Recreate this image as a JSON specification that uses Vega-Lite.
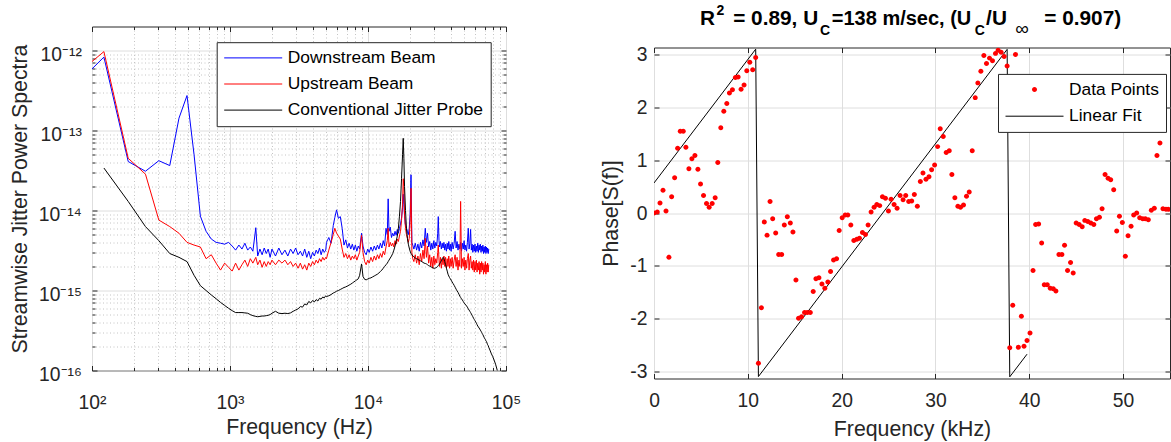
{
"$schema":"https://vega.github.io/schema/vega-lite/v6.json",
"background":"white",
"padding":{"left":8,"top":3.5,"right":0,"bottom":0},
"spacing":77,
"config":{
 "font":"Liberation Sans",
 "view":{"stroke":"#262626","strokeWidth":1},
 "axis":{"domain":false,"ticks":false,"grid":false,"labelFont":"Liberation Sans","labelFontSize":19.3,"labelColor":"#262626","titleFont":"Liberation Sans","titleFontSize":21.3,"titleFontWeight":"normal","titleColor":"#262626","tickColor":"#262626","tickWidth":1,"gridColor":"#dedede","gridWidth":1,"labelFlush":false,"labelOverlap":false,"labelBound":false},
 "legend":{"labelFont":"Liberation Sans","labelFontSize":17.4,"labelColor":"#000000","labelLimit":400}
},
"hconcat":[
{
 "width":414,"height":344,
 "data":{"values":[
{"f":100,"d":5.9e-13,"u":7.3e-13},
{"f":122,"d":8.3e-13,"u":9.7e-13,"c":3.4e-14},
{"f":183,"d":4.1e-14,"u":4.5e-14,"c":1.3e-14},
{"f":244,"d":3.1e-14,"u":2.85e-14,"c":6.3e-15},
{"f":305,"d":4.2e-14,"u":7.6e-15,"c":4.2e-15},
{"f":366,"d":3.65e-14,"u":6.3e-15,"c":2.9e-15},
{"f":427,"d":1.43e-13,"u":5.2e-15,"c":2.6e-15},
{"f":488,"d":2.74e-13,"u":4.0e-15,"c":2.3e-15},
{"f":549,"d":5e-14,"u":3.7e-15,"c":1.55e-15},
{"f":610,"d":8.5e-15,"u":3.5e-15,"c":1.15e-15},
{"f":671,"d":5.5e-15,"u":2.5e-15,"c":1.0e-15},
{"f":732,"d":4.4e-15,"u":2.8e-15,"c":8.8e-16},
{"f":793,"d":4.0e-15,"u":2.2e-15,"c":7.9e-16},
{"f":854,"d":3.9e-15,"u":1.8e-15,"c":7.1e-16},
{"f":915,"d":3.8e-15,"u":2.2e-15,"c":6.5e-16},
{"f":976,"d":4.0e-15,"u":1.95e-15,"c":6.0e-16},
{"f":1037,"d":3.6e-15,"u":1.75e-15,"c":5.6e-16},
{"f":1098,"d":3.2e-15,"u":2.2e-15,"c":5.3e-16},
{"f":1160,"d":3.7e-15,"u":1.8e-15,"c":5.3e-16},
{"f":1221,"d":3.3e-15,"u":2.1e-15,"c":5.3e-16},
{"f":1282,"d":3.9e-15,"u":2.4e-15,"c":5.25e-16},
{"f":1343,"d":3.2e-15,"u":2.0e-15,"c":5.2e-16},
{"f":1404,"d":3.5e-15,"u":2.5e-15,"c":5.0e-16},
{"f":1465,"d":3.1e-15,"u":2.2e-15,"c":4.85e-16},
{"f":1538,"d":6.1e-15,"u":2.6e-15,"c":4.75e-16},
{"f":1587,"d":2.7e-15,"u":2.1e-15,"c":4.7e-16},
{"f":1648,"d":3.3e-15,"u":2.4e-15,"c":4.75e-16},
{"f":1709,"d":2.8e-15,"u":1.95e-15,"c":4.8e-16},
{"f":1770,"d":3.4e-15,"u":2.3e-15,"c":4.8e-16},
{"f":1831,"d":2.9e-15,"u":2.0e-15,"c":4.85e-16},
{"f":1892,"d":3.3e-15,"u":2.3e-15,"c":4.9e-16},
{"f":1953,"d":2.6e-15,"u":2.1e-15,"c":5.0e-16},
{"f":2014,"d":3.3e-15,"u":2.4e-15,"c":5.2e-16},
{"f":2136,"d":2.7e-15,"u":2.1e-15,"c":5.5e-16},
{"f":2258,"d":3.4e-15,"u":2.4e-15,"c":5.2e-16},
{"f":2380,"d":2.8e-15,"u":2.2e-15,"c":5.15e-16},
{"f":2502,"d":3.2e-15,"u":2.4e-15,"c":5.2e-16},
{"f":2624,"d":2.7e-15,"u":2.1e-15,"c":5.15e-16},
{"f":2746,"d":3.3e-15,"u":2.3e-15,"c":5.25e-16},
{"f":2868,"d":2.9e-15,"u":2.0e-15,"c":5.5e-16},
{"f":2990,"d":3.4e-15,"u":2.2e-15,"c":5.7e-16},
{"f":3112,"d":2.8e-15,"u":1.9e-15,"c":5.9e-16},
{"f":3234,"d":3.1e-15,"u":2.2e-15,"c":6.3e-16},
{"f":3356,"d":2.7e-15,"u":1.85e-15,"c":6.2e-16},
{"f":3478,"d":3.3e-15,"u":2.1e-15,"c":6.8e-16},
{"f":3600,"d":2.6e-15,"u":1.8e-15,"c":6.6e-16},
{"f":3722,"d":3.1e-15,"u":2.2e-15,"c":7.3e-16},
{"f":3844,"d":2.5e-15,"u":2.0e-15,"c":7.0e-16},
{"f":3966,"d":3.0e-15,"u":2.3e-15,"c":7.5e-16},
{"f":4088,"d":2.7e-15,"u":2.1e-15,"c":7.2e-16},
{"f":4210,"d":3.2e-15,"u":2.4e-15,"c":7.7e-16},
{"f":4332,"d":2.9e-15,"u":2.2e-15,"c":7.4e-16},
{"f":4454,"d":3.4e-15,"u":2.5e-15,"c":8.0e-16},
{"f":4576,"d":2.8e-15,"u":2.3e-15,"c":7.8e-16},
{"f":4698,"d":3.3e-15,"u":2.6e-15,"c":8.3e-16},
{"f":4820,"d":3.0e-15,"u":2.4e-15,"c":8.1e-16},
{"f":4942,"d":3.2e-15,"u":2.6e-15,"c":8.6e-16},
{"f":5000,"d":4.0e-15,"u":2.5e-15,"c":8.4e-16},
{"f":5200,"d":4.6e-15,"u":3.2e-15,"c":8.6e-16},
{"f":5400,"d":3.9e-15,"u":4.0e-15,"c":8.9e-16},
{"f":5600,"d":6.5e-15,"u":5.0e-15,"c":9.3e-16},
{"f":5750,"d":8.2e-15,"u":6.0e-15,"c":9.5e-16},
{"f":5920,"d":1.02e-14,"u":5.2e-15,"c":9.8e-16},
{"f":6100,"d":8.0e-15,"u":4.8e-15,"c":1.0e-15},
{"f":6300,"d":8.4e-15,"u":4.4e-15,"c":1.03e-15},
{"f":6500,"d":6.0e-15,"u":3.3e-15,"c":1.06e-15},
{"f":6700,"d":3.7e-15,"u":2.6e-15,"c":1.09e-15},
{"f":6900,"d":4.3e-15,"u":2.9e-15,"c":1.11e-15},
{"f":7100,"d":3.4e-15,"u":2.5e-15,"c":1.14e-15},
{"f":7300,"d":3.9e-15,"u":2.8e-15,"c":1.17e-15},
{"f":7500,"d":3.3e-15,"u":2.4e-15,"c":1.2e-15},
{"f":7700,"d":3.8e-15,"u":2.7e-15,"c":1.24e-15},
{"f":7900,"d":3.2e-15,"u":2.5e-15,"c":1.28e-15},
{"f":8100,"d":3.7e-15,"u":2.8e-15,"c":1.32e-15},
{"f":8300,"d":3.1e-15,"u":2.4e-15,"c":1.36e-15},
{"f":8500,"d":3.6e-15,"u":2.7e-15,"c":1.4e-15},
{"f":8700,"d":3.3e-15,"u":3.0e-15,"c":1.55e-15},
{"f":8980,"d":5.2e-15,"u":4.9e-15,"c":2.15e-15},
{"f":9200,"d":3.6e-15,"u":3.0e-15,"c":1.5e-15},
{"f":9450,"d":3.0e-15,"u":2.3e-15,"c":1.38e-15},
{"f":9700,"d":2.8e-15,"u":2.1e-15,"c":1.36e-15},
{"f":9950,"d":3.3e-15,"u":2.4e-15,"c":1.39e-15},
{"f":10200,"d":3.0e-15,"u":2.2e-15,"c":1.42e-15},
{"f":10500,"d":3.5e-15,"u":2.6e-15,"c":1.44e-15},
{"f":10800,"d":3.1e-15,"u":2.3e-15,"c":1.48e-15},
{"f":11100,"d":3.6e-15,"u":2.7e-15,"c":1.52e-15},
{"f":11400,"d":3.2e-15,"u":2.4e-15,"c":1.56e-15},
{"f":11700,"d":3.7e-15,"u":2.8e-15,"c":1.6e-15},
{"f":12000,"d":3.3e-15,"u":2.5e-15,"c":1.66e-15},
{"f":12300,"d":3.9e-15,"u":2.9e-15,"c":1.73e-15},
{"f":12600,"d":3.4e-15,"u":2.6e-15,"c":1.8e-15},
{"f":12900,"d":4.2e-15,"u":3.1e-15,"c":1.9e-15},
{"f":13200,"d":3.6e-15,"u":2.8e-15,"c":2.0e-15},
{"f":13500,"d":6.0e-15,"u":3.5e-15,"c":2.1e-15},
{"f":13800,"d":5.0e-15,"u":4.2e-15,"c":2.2e-15},
{"f":14000,"d":1.4e-14,"u":6.0e-15,"c":2.3e-15},
{"f":14200,"d":5.5e-15,"u":3.5e-15,"c":2.4e-15},
{"f":14500,"d":6.2e-15,"u":4.0e-15,"c":2.55e-15},
{"f":14800,"d":4.6e-15,"u":3.6e-15,"c":2.7e-15},
{"f":15100,"d":5.2e-15,"u":3.9e-15,"c":2.9e-15},
{"f":15400,"d":4.8e-15,"u":3.5e-15,"c":3.2e-15},
{"f":15700,"d":5.5e-15,"u":4.2e-15,"c":3.6e-15},
{"f":16000,"d":4.9e-15,"u":3.8e-15,"c":4.1e-15},
{"f":16300,"d":5.8e-15,"u":4.4e-15,"c":4.8e-15},
{"f":16600,"d":5.2e-15,"u":4.1e-15,"c":6.0e-15},
{"f":16900,"d":6.0e-15,"u":4.8e-15,"c":8.5e-15},
{"f":17200,"d":6.8e-15,"u":5.5e-15,"c":1.3e-14},
{"f":17500,"d":8.0e-15,"u":7.5e-15,"c":2.5e-14},
{"f":17800,"d":1.1e-14,"u":1.2e-14,"c":5.0e-14},
{"f":18000,"d":1.6e-14,"u":2.5e-14,"c":8.0e-14},
{"f":18200,"d":1.2e-14,"u":2.0e-14,"c":4.5e-14},
{"f":18400,"d":8.5e-15,"u":9.0e-15,"c":2.0e-14},
{"f":18700,"d":6.5e-15,"u":6.0e-15,"c":1.0e-14},
{"f":19000,"d":6.0e-15,"u":5.0e-15,"c":6.0e-15},
{"f":19300,"d":5.5e-15,"u":4.5e-15,"c":4.5e-15},
{"f":19600,"d":5.0e-15,"u":4.0e-15,"c":3.8e-15},
{"f":19900,"d":6.0e-15,"u":4.5e-15,"c":3.4e-15},
{"f":20200,"d":9.0e-15,"u":7.0e-15,"c":3.1e-15},
{"f":20500,"d":2.8e-14,"u":1.9e-14,"c":2.9e-15},
{"f":20800,"d":4.0e-15,"u":3.0e-15,"c":2.8e-15},
{"f":21100,"d":3.7e-15,"u":2.5e-15,"c":2.7e-15},
{"f":21500,"d":3.3e-15,"u":2.3e-15,"c":2.65e-15},
{"f":22000,"d":3.9e-15,"u":2.8e-15,"c":2.55e-15},
{"f":22500,"d":3.2e-15,"u":2.2e-15,"c":2.5e-15},
{"f":23000,"d":3.8e-15,"u":2.7e-15,"c":2.45e-15},
{"f":23500,"d":3.1e-15,"u":2.1e-15,"c":2.4e-15},
{"f":24000,"d":4.0e-15,"u":2.9e-15,"c":2.35e-15},
{"f":24500,"d":3.4e-15,"u":2.3e-15,"c":2.3e-15},
{"f":25000,"d":4.3e-15,"u":3.2e-15,"c":2.25e-15},
{"f":25500,"d":3.6e-15,"u":2.5e-15,"c":2.2e-15},
{"f":26000,"d":6.0e-15,"u":4.5e-15,"c":2.18e-15},
{"f":26500,"d":4.0e-15,"u":2.6e-15,"c":2.15e-15},
{"f":27000,"d":5.2e-15,"u":3.6e-15,"c":2.1e-15},
{"f":27500,"d":3.5e-15,"u":2.2e-15,"c":2.05e-15},
{"f":28000,"d":4.1e-15,"u":2.8e-15,"c":2.02e-15},
{"f":28500,"d":3.2e-15,"u":2.0e-15,"c":1.98e-15},
{"f":29000,"d":3.9e-15,"u":2.6e-15,"c":1.95e-15},
{"f":29500,"d":3.3e-15,"u":1.9e-15,"c":1.92e-15},
{"f":30000,"d":4.2e-15,"u":2.7e-15,"c":1.9e-15},
{"f":30500,"d":3.4e-15,"u":2.1e-15,"c":1.9e-15},
{"f":31000,"d":4.0e-15,"u":2.5e-15,"c":1.92e-15},
{"f":31500,"d":3.6e-15,"u":2.2e-15,"c":1.95e-15},
{"f":32000,"d":5.2e-15,"u":3.0e-15,"c":2.0e-15},
{"f":32300,"d":8.4e-15,"u":3.7e-15,"c":2.05e-15},
{"f":32700,"d":4.2e-15,"u":2.4e-15,"c":2.1e-15},
{"f":33000,"d":3.5e-15,"u":2.0e-15,"c":2.15e-15},
{"f":33500,"d":4.1e-15,"u":2.6e-15,"c":2.25e-15},
{"f":34000,"d":3.3e-15,"u":1.9e-15,"c":2.35e-15},
{"f":34500,"d":3.9e-15,"u":2.5e-15,"c":2.5e-15},
{"f":35000,"d":3.4e-15,"u":2.1e-15,"c":2.6e-15},
{"f":35500,"d":4.0e-15,"u":2.7e-15,"c":2.5e-15},
{"f":36000,"d":3.2e-15,"u":2.0e-15,"c":2.3e-15},
{"f":36500,"d":3.8e-15,"u":2.6e-15,"c":2.1e-15},
{"f":37000,"d":3.1e-15,"u":1.9e-15,"c":1.9e-15},
{"f":37500,"d":3.9e-15,"u":2.5e-15,"c":1.75e-15},
{"f":38000,"d":3.3e-15,"u":2.0e-15,"c":1.6e-15},
{"f":38500,"d":4.1e-15,"u":2.7e-15,"c":1.52e-15},
{"f":39000,"d":3.2e-15,"u":1.9e-15,"c":1.45e-15},
{"f":39500,"d":3.8e-15,"u":2.5e-15,"c":1.4e-15},
{"f":40000,"d":3.1e-15,"u":2.0e-15,"c":1.35e-15},
{"f":40700,"d":4.0e-15,"u":2.6e-15,"c":1.28e-15},
{"f":41400,"d":3.3e-15,"u":1.9e-15,"c":1.22e-15},
{"f":42100,"d":3.9e-15,"u":2.4e-15,"c":1.16e-15},
{"f":42800,"d":5.5e-15,"u":2.8e-15,"c":1.1e-15},
{"f":43500,"d":3.4e-15,"u":2.0e-15,"c":1.04e-15},
{"f":44200,"d":4.1e-15,"u":2.6e-15,"c":9.9e-16},
{"f":44900,"d":3.2e-15,"u":1.8e-15,"c":9.5e-16},
{"f":45600,"d":3.8e-15,"u":2.4e-15,"c":9.0e-16},
{"f":46300,"d":3.3e-15,"u":2.0e-15,"c":8.5e-16},
{"f":46900,"d":4.0e-15,"u":1.3e-14,"c":8.2e-16},
{"f":47600,"d":3.1e-15,"u":1.9e-15,"c":7.9e-16},
{"f":48300,"d":3.9e-15,"u":2.5e-15,"c":7.6e-16},
{"f":49000,"d":3.3e-15,"u":2.0e-15,"c":7.3e-16},
{"f":49700,"d":4.2e-15,"u":2.6e-15,"c":7.0e-16},
{"f":50400,"d":3.2e-15,"u":1.8e-15,"c":6.8e-16},
{"f":51100,"d":3.7e-15,"u":2.4e-15,"c":6.6e-16},
{"f":51800,"d":3.1e-15,"u":1.9e-15,"c":6.4e-16},
{"f":52500,"d":4.0e-15,"u":2.5e-15,"c":6.2e-16},
{"f":53300,"d":6.0e-15,"u":2.9e-15,"c":5.9e-16},
{"f":54000,"d":3.3e-15,"u":1.8e-15,"c":5.7e-16},
{"f":54700,"d":3.9e-15,"u":2.4e-15,"c":5.5e-16},
{"f":55400,"d":5.8e-15,"u":2.7e-15,"c":5.3e-16},
{"f":56100,"d":3.2e-15,"u":1.9e-15,"c":5.1e-16},
{"f":56800,"d":3.8e-15,"u":2.3e-15,"c":4.9e-16},
{"f":57500,"d":3.0e-15,"u":1.8e-15,"c":4.7e-16},
{"f":58200,"d":3.7e-15,"u":2.4e-15,"c":4.5e-16},
{"f":58900,"d":3.1e-15,"u":1.7e-15,"c":4.35e-16},
{"f":59600,"d":3.8e-15,"u":2.3e-15,"c":4.2e-16},
{"f":60300,"d":3.0e-15,"u":1.8e-15,"c":4.05e-16},
{"f":61000,"d":3.6e-15,"u":2.4e-15,"c":3.9e-16},
{"f":61700,"d":3.1e-15,"u":1.7e-15,"c":3.75e-16},
{"f":62400,"d":3.9e-15,"u":2.2e-15,"c":3.6e-16},
{"f":63100,"d":3.0e-15,"u":1.8e-15,"c":3.5e-16},
{"f":63800,"d":3.7e-15,"u":2.3e-15,"c":3.4e-16},
{"f":64500,"d":3.2e-15,"u":1.6e-15,"c":3.3e-16},
{"f":65200,"d":3.8e-15,"u":2.2e-15,"c":3.2e-16},
{"f":65900,"d":3.0e-15,"u":1.7e-15,"c":3.1e-16},
{"f":66600,"d":3.6e-15,"u":2.3e-15,"c":3.0e-16},
{"f":67300,"d":3.1e-15,"u":1.8e-15,"c":2.9e-16},
{"f":68000,"d":3.7e-15,"u":2.2e-15,"c":2.8e-16},
{"f":68700,"d":2.9e-15,"u":1.6e-15,"c":2.7e-16},
{"f":69400,"d":3.5e-15,"u":2.1e-15,"c":2.6e-16},
{"f":70100,"d":3.0e-15,"u":1.7e-15,"c":2.5e-16},
{"f":70800,"d":3.6e-15,"u":2.3e-15,"c":2.45e-16},
{"f":71500,"d":2.9e-15,"u":1.6e-15,"c":2.35e-16},
{"f":72200,"d":3.5e-15,"u":2.1e-15,"c":2.3e-16},
{"f":72900,"d":3.0e-15,"u":1.7e-15,"c":2.2e-16},
{"f":73600,"d":3.4e-15,"u":2.2e-15,"c":2.1e-16},
{"f":74300,"d":2.9e-15,"u":1.7e-15,"c":2.05e-16},
{"f":75000,"d":3.3e-15,"u":2.1e-15,"c":1.95e-16},
{"f":76500,"c":1.8e-16},
{"f":78000,"c":1.65e-16},
{"f":80000,"c":1.5e-16},
{"f":82000,"c":1.35e-16},
{"f":84000,"c":1.2e-16},
{"f":86500,"c":1.0e-16},
{"f":88000,"c":9e-17},
{"f":90000,"c":8e-17}
 ]},
 "transform":[{"fold":["d","u","c"],"as":["k","p"]},{"filter":"isValid(datum.p)"}],
 "layer":[
  {"mark":{"type":"point","opacity":0},
   "encoding":{
    "x":{"field":"f","type":"quantitative","scale":{"type":"log","domain":[100,100000],"nice":false},
      "axis":{"orient":"bottom","values":[200,300,400,500,600,700,800,900,2000,3000,4000,5000,6000,7000,8000,9000,20000,30000,40000,50000,60000,70000,80000,90000],"grid":true,"gridDash":[1,2.5],"gridColor":"#c4c4c4","labels":false,"ticks":false,"title":null}},
    "y":{"field":"p","type":"quantitative","scale":{"type":"log","domain":[1e-16,2e-12],"nice":false},
      "axis":{"orient":"left","values":[2e-16,3e-16,4e-16,5e-16,6e-16,7e-16,8e-16,9e-16,2e-15,3e-15,4e-15,5e-15,6e-15,7e-15,8e-15,9e-15,2e-14,3e-14,4e-14,5e-14,6e-14,7e-14,8e-14,9e-14,2e-13,3e-13,4e-13,5e-13,6e-13,7e-13,8e-13,9e-13],"grid":true,"gridDash":[1,2.5],"gridColor":"#c4c4c4","labels":false,"ticks":false,"title":null}}
   }},
  {"mark":{"type":"point","opacity":0},
   "encoding":{
    "x":{"field":"f","type":"quantitative","axis":{"orient":"bottom","values":[100,1000,10000,100000],"grid":true,"labelExpr":"datum.value < 500 ? '10²' : datum.value < 5000 ? '10³' : datum.value < 50000 ? '10⁴' : '10⁵'","labelPadding":38,"labelBaseline":"alphabetic","labelAlign":"center","title":"Frequency (Hz)","titleX":207,"titleY":63,"titleBaseline":"alphabetic","titleAlign":"center","titleAngle":0}},
    "y":{"field":"p","type":"quantitative","axis":{"orient":"left","values":[1e-16,1e-15,1e-14,1e-13,1e-12],"grid":true,"labelExpr":"datum.value < 5e-16 ? '10⁻¹⁶' : datum.value < 5e-15 ? '10⁻¹⁵' : datum.value < 5e-14 ? '10⁻¹⁴' : datum.value < 5e-13 ? '10⁻¹³' : '10⁻¹²'","labelPadding":10.6,"labelBaseline":"alphabetic","labelOffset":10,"title":"Streamwise Jitter Power Spectra","titleX":-65.6,"titleY":172,"titleAngle":270,"titleBaseline":"alphabetic","titleAlign":"center"}}
   }},
  {"mark":{"type":"point","opacity":0},
   "encoding":{
    "x":{"field":"f","type":"quantitative","axis":{"orient":"bottom","values":[100,1000,10000,100000],"ticks":true,"tickSize":5,"offset":-5,"labels":false,"title":null}},
    "y":{"field":"p","type":"quantitative","axis":{"orient":"left","values":[1e-16,1e-15,1e-14,1e-13,1e-12],"ticks":true,"tickSize":5,"offset":-5,"labels":false,"title":null}}
   }},
  {"mark":{"type":"point","opacity":0},
   "encoding":{
    "x":{"field":"f","type":"quantitative","axis":{"orient":"top","values":[100,1000,10000,100000],"ticks":true,"tickSize":5,"offset":-5,"labels":false,"title":null}},
    "y":{"field":"p","type":"quantitative","axis":{"orient":"right","values":[1e-16,1e-15,1e-14,1e-13,1e-12],"ticks":true,"tickSize":5,"offset":-5,"labels":false,"title":null}}
   }},
  {"mark":{"type":"point","opacity":0},
   "encoding":{
    "x":{"field":"f","type":"quantitative","axis":{"orient":"bottom","values":[200,300,400,500,600,700,800,900,2000,3000,4000,5000,6000,7000,8000,9000,20000,30000,40000,50000,60000,70000,80000,90000],"ticks":true,"tickSize":3,"offset":-3,"labels":false,"title":null}},
    "y":{"field":"p","type":"quantitative","axis":{"orient":"left","values":[2e-16,3e-16,4e-16,5e-16,6e-16,7e-16,8e-16,9e-16,2e-15,3e-15,4e-15,5e-15,6e-15,7e-15,8e-15,9e-15,2e-14,3e-14,4e-14,5e-14,6e-14,7e-14,8e-14,9e-14,2e-13,3e-13,4e-13,5e-13,6e-13,7e-13,8e-13,9e-13],"ticks":true,"tickSize":3,"offset":-3,"labels":false,"title":null}}
   }},
  {"mark":{"type":"point","opacity":0},
   "encoding":{
    "x":{"field":"f","type":"quantitative","axis":{"orient":"top","values":[200,300,400,500,600,700,800,900,2000,3000,4000,5000,6000,7000,8000,9000,20000,30000,40000,50000,60000,70000,80000,90000],"ticks":true,"tickSize":3,"offset":-3,"labels":false,"title":null}},
    "y":{"field":"p","type":"quantitative","axis":{"orient":"right","values":[2e-16,3e-16,4e-16,5e-16,6e-16,7e-16,8e-16,9e-16,2e-15,3e-15,4e-15,5e-15,6e-15,7e-15,8e-15,9e-15,2e-14,3e-14,4e-14,5e-14,6e-14,7e-14,8e-14,9e-14,2e-13,3e-13,4e-13,5e-13,6e-13,7e-13,8e-13,9e-13],"ticks":true,"tickSize":3,"offset":-3,"labels":false,"title":null}}
   }},
  {"transform":[{"filter":"datum.k === 'd'"}],
   "mark":{"type":"line","strokeWidth":1,"clip":true},
   "encoding":{
    "x":{"field":"f","type":"quantitative","axis":null},
    "y":{"field":"p","type":"quantitative","axis":null},
    "color":{"field":"k","type":"nominal","scale":{"domain":["d","u","c"],"range":["#0000ff","#ff0000","#000000"]},
      "legend":{"title":null,"orient":"none","legendX":124.7,"legendY":15.7,"symbolType":"stroke","symbolSize":3364,"symbolStrokeWidth":1,"clipHeight":17.4,"rowPadding":7.1,"padding":7,"labelOffset":5,"labelLimit":400,"fillColor":"white","strokeColor":"#262626","labelExpr":"datum.label === 'd' ? 'Downstream Beam' : datum.label === 'u' ? 'Upstream Beam' : 'Conventional Jitter Probe'"}}
   }},
  {"transform":[{"filter":"datum.k === 'u'"}],
   "mark":{"type":"line","strokeWidth":1,"clip":true},
   "encoding":{
    "x":{"field":"f","type":"quantitative","axis":null},
    "y":{"field":"p","type":"quantitative","axis":null},
    "color":{"field":"k","type":"nominal","scale":{"domain":["d","u","c"],"range":["#0000ff","#ff0000","#000000"]},
      "legend":{"title":null,"orient":"none","legendX":124.7,"legendY":15.7,"symbolType":"stroke","symbolSize":3364,"symbolStrokeWidth":1,"clipHeight":17.4,"rowPadding":7.1,"padding":7,"labelOffset":5,"labelLimit":400,"fillColor":"white","strokeColor":"#262626","labelExpr":"datum.label === 'd' ? 'Downstream Beam' : datum.label === 'u' ? 'Upstream Beam' : 'Conventional Jitter Probe'"}}
   }},
  {"transform":[{"filter":"datum.k === 'c'"}],
   "mark":{"type":"line","strokeWidth":1,"clip":true},
   "encoding":{
    "x":{"field":"f","type":"quantitative","axis":null},
    "y":{"field":"p","type":"quantitative","axis":null},
    "color":{"field":"k","type":"nominal","scale":{"domain":["d","u","c"],"range":["#0000ff","#ff0000","#000000"]},
      "legend":{"title":null,"orient":"none","legendX":124.7,"legendY":15.7,"symbolType":"stroke","symbolSize":3364,"symbolStrokeWidth":1,"clipHeight":17.4,"rowPadding":7.1,"padding":7,"labelOffset":5,"labelLimit":400,"fillColor":"white","strokeColor":"#262626","labelExpr":"datum.label === 'd' ? 'Downstream Beam' : datum.label === 'u' ? 'Upstream Beam' : 'Conventional Jitter Probe'"}}
   }}
 ],
 "resolve":{"axis":{"x":"independent","y":"independent"}}
},
{
 "spacing":0,
 "vconcat":[
  {
   "width":516,"height":18,
   "view":{"stroke":null},
   "data":{"values":[{}]},
   "layer":[
    {"mark":{"type":"text","text":"R","fontSize":20.8,"fontWeight":"bold","align":"left","baseline":"alphabetic","color":"#000000"},
     "encoding":{"x":{"datum":4.89,"type":"quantitative","scale":{"domain":[0,55],"nice":false,"zero":false},"axis":null},"y":{"datum":1.089,"type":"quantitative","scale":{"domain":[0,1],"nice":false,"zero":false},"axis":null}}},
    {"mark":{"type":"text","text":"2","fontSize":14,"fontWeight":"bold","align":"left","baseline":"alphabetic","color":"#000000"},
     "encoding":{"x":{"datum":6.67,"type":"quantitative","axis":null},"y":{"datum":1.644,"type":"quantitative","axis":null}}},
    {"mark":{"type":"text","text":"= 0.89, U","fontSize":20.8,"fontWeight":"bold","align":"left","baseline":"alphabetic","color":"#000000"},
     "encoding":{"x":{"datum":8.44,"type":"quantitative","axis":null},"y":{"datum":1.089,"type":"quantitative","axis":null}}},
    {"mark":{"type":"text","text":"C","fontSize":14,"fontWeight":"bold","align":"left","baseline":"alphabetic","color":"#000000"},
     "encoding":{"x":{"datum":17.7,"type":"quantitative","axis":null},"y":{"datum":0.533,"type":"quantitative","axis":null}}},
    {"mark":{"type":"text","text":"=138 m/sec, (U","fontSize":20,"fontWeight":"bold","align":"left","baseline":"alphabetic","color":"#000000"},
     "encoding":{"x":{"datum":18.95,"type":"quantitative","axis":null},"y":{"datum":1.089,"type":"quantitative","axis":null}}},
    {"mark":{"type":"text","text":"C","fontSize":14,"fontWeight":"bold","align":"left","baseline":"alphabetic","color":"#000000"},
     "encoding":{"x":{"datum":34.2,"type":"quantitative","axis":null},"y":{"datum":0.533,"type":"quantitative","axis":null}}},
    {"mark":{"type":"text","text":"/U","fontSize":20.8,"fontWeight":"bold","align":"left","baseline":"alphabetic","color":"#000000"},
     "encoding":{"x":{"datum":35.4,"type":"quantitative","axis":null},"y":{"datum":1.089,"type":"quantitative","axis":null}}},
    {"mark":{"type":"text","text":"∞","fontSize":19,"fontWeight":"normal","align":"left","baseline":"alphabetic","color":"#000000"},
     "encoding":{"x":{"datum":38.5,"type":"quantitative","axis":null},"y":{"datum":0.533,"type":"quantitative","axis":null}}},
    {"mark":{"type":"text","text":"= 0.907)","fontSize":20.8,"fontWeight":"bold","align":"left","baseline":"alphabetic","color":"#000000"},
     "encoding":{"x":{"datum":41.6,"type":"quantitative","axis":null},"y":{"datum":1.089,"type":"quantitative","axis":null}}}
   ]
  },
  {
   "width":516,"height":331,
   "data":{"values":[
{"f":0,"ph":0},{"f":0.35,"ph":0.02},{"f":0.64,"ph":0.19},{"f":0.96,"ph":0.43},{"f":1.28,"ph":0.04},{"f":1.59,"ph":-0.84},{"f":1.88,"ph":0.31},{"f":2.2,"ph":0.67},{"f":2.52,"ph":1.23},{"f":2.8,"ph":1.55},
{"f":3.12,"ph":1.55},{"f":3.4,"ph":1.25},{"f":3.72,"ph":0.84},{"f":4.04,"ph":1.03},{"f":4.36,"ph":1.09},{"f":4.68,"ph":0.83},{"f":4.96,"ph":0.55},{"f":5.28,"ph":0.33},{"f":5.6,"ph":0.18},{"f":5.88,"ph":0.11},
{"f":6.2,"ph":0.18},{"f":6.52,"ph":0.29},{"f":6.8,"ph":0.96},{"f":7.12,"ph":1.62},{"f":7.44,"ph":1.93},{"f":7.76,"ph":2.08},{"f":8.04,"ph":2.28},{"f":8.36,"ph":2.34},{"f":8.68,"ph":2.57},{"f":8.97,"ph":2.58},
{"f":9.28,"ph":2.35},{"f":9.6,"ph":2.43},{"f":9.89,"ph":2.7},{"f":10.21,"ph":2.86},{"f":10.52,"ph":2.72},{"f":10.84,"ph":2.95},{"f":11.13,"ph":-2.85},{"f":11.45,"ph":-1.8},{"f":11.76,"ph":-0.17},{"f":12.05,"ph":-0.42},
{"f":12.37,"ph":0.22},{"f":12.65,"ph":-0.11},{"f":12.97,"ph":-0.38},{"f":13.29,"ph":-0.79},{"f":13.61,"ph":-0.79},{"f":13.89,"ph":-0.23},{"f":14.21,"ph":-0.07},{"f":14.53,"ph":-0.19},{"f":14.81,"ph":-0.36},{"f":15.13,"ph":-1.27},
{"f":15.41,"ph":-2.0},{"f":15.73,"ph":-1.97},{"f":16.05,"ph":-1.89},{"f":16.34,"ph":-1.89},{"f":16.66,"ph":-1.89},{"f":16.97,"ph":-1.49},{"f":17.26,"ph":-1.25},{"f":17.58,"ph":-1.23},{"f":17.9,"ph":-1.35},{"f":18.21,"ph":-1.43},
{"f":18.53,"ph":-1.31},{"f":18.82,"ph":-1.11},{"f":19.14,"ph":-0.89},{"f":19.46,"ph":-0.87},{"f":19.74,"ph":-0.33},{"f":20.06,"ph":-0.09},{"f":20.38,"ph":-0.04},{"f":20.66,"ph":-0.04},{"f":20.98,"ph":-0.23},{"f":21.3,"ph":-0.52},
{"f":21.62,"ph":-0.5},{"f":21.9,"ph":-0.48},{"f":22.22,"ph":-0.37},{"f":22.54,"ph":-0.41},{"f":22.82,"ph":-0.23},{"f":23.14,"ph":0.02},{"f":23.46,"ph":0.11},{"f":23.75,"ph":0.16},{"f":24.06,"ph":0.14},{"f":24.35,"ph":0.31},
{"f":24.67,"ph":0.28},{"f":24.99,"ph":0.04},{"f":25.27,"ph":0.26},{"f":25.59,"ph":0.16},{"f":25.91,"ph":0.09},{"f":26.23,"ph":0.33},{"f":26.55,"ph":0.25},{"f":26.83,"ph":0.33},{"f":27.15,"ph":0.22},{"f":27.47,"ph":0.23},
{"f":27.75,"ph":0.35},{"f":28.07,"ph":0.13},{"f":28.39,"ph":0.6},{"f":28.67,"ph":0.76},{"f":28.99,"ph":0.64},{"f":29.31,"ph":0.69},{"f":29.59,"ph":0.82},{"f":29.91,"ph":0.91},{"f":30.23,"ph":1.26},{"f":30.51,"ph":1.6},
{"f":30.83,"ph":1.45},{"f":31.15,"ph":1.15},{"f":31.47,"ph":1.18},{"f":31.75,"ph":0.73},{"f":32.07,"ph":0.29},{"f":32.39,"ph":0.13},{"f":32.67,"ph":0.11},{"f":32.99,"ph":0.15},{"f":33.31,"ph":0.32},{"f":33.6,"ph":0.4},
{"f":33.92,"ph":1.18},{"f":34.24,"ph":2.19},{"f":34.52,"ph":2.47},{"f":34.84,"ph":2.69},{"f":35.16,"ph":2.99},{"f":35.44,"ph":2.84},{"f":35.76,"ph":2.94},{"f":36.08,"ph":2.89},{"f":36.4,"ph":3.03},{"f":36.68,"ph":3.09},
{"f":37.0,"ph":3.05},{"f":37.32,"ph":2.97},{"f":37.64,"ph":2.79},{"f":37.92,"ph":-2.56},{"f":38.24,"ph":-1.75},{"f":38.53,"ph":3.01},{"f":38.84,"ph":-2.55},{"f":39.16,"ph":-1.96},{"f":39.44,"ph":-2.53},{"f":39.76,"ph":-2.42},
{"f":40.08,"ph":-2.28},{"f":40.4,"ph":-1.09},{"f":40.68,"ph":-0.22},{"f":41.0,"ph":-0.21},{"f":41.32,"ph":-0.57},{"f":41.6,"ph":-1.36},{"f":41.92,"ph":-1.36},{"f":42.24,"ph":-1.43},{"f":42.56,"ph":-1.44},{"f":42.84,"ph":-1.48},
{"f":43.16,"ph":-0.79},{"f":43.48,"ph":-0.79},{"f":43.76,"ph":-0.61},{"f":44.08,"ph":-1.09},{"f":44.4,"ph":-0.94},{"f":44.68,"ph":-1.14},{"f":45.0,"ph":-0.19},{"f":45.32,"ph":-0.22},{"f":45.64,"ph":-0.26},{"f":45.92,"ph":-0.14},
{"f":46.24,"ph":-0.16},{"f":46.56,"ph":-0.19},{"f":46.88,"ph":-0.22},{"f":47.16,"ph":-0.11},{"f":47.48,"ph":-0.08},{"f":47.76,"ph":0.08},{"f":48.08,"ph":0.73},{"f":48.4,"ph":0.66},{"f":48.68,"ph":0.63},{"f":49.0,"ph":0.44},
{"f":49.32,"ph":-0.34},{"f":49.61,"ph":-0.06},{"f":49.92,"ph":-0.18},{"f":50.24,"ph":-0.82},{"f":50.53,"ph":-0.43},{"f":50.85,"ph":-0.25},{"f":51.13,"ph":-0.04},{"f":51.45,"ph":0.0},{"f":51.77,"ph":-0.09},{"f":52.09,"ph":-0.11},
{"f":52.37,"ph":-0.11},{"f":52.69,"ph":-0.13},{"f":53.01,"ph":0.05},{"f":53.33,"ph":0.09},{"f":53.61,"ph":1.09},{"f":53.93,"ph":1.33},{"f":54.25,"ph":0.08},{"f":54.57,"ph":0.07},{"f":54.82,"ph":0.07}
   ]},
   "layer":[
    {"mark":{"type":"point","opacity":0},
     "encoding":{
      "x":{"field":"f","type":"quantitative","scale":{"domain":[0,55],"nice":false,"zero":false},
        "axis":{"orient":"bottom","values":[0,10,20,30,40,50],"grid":true,"labelExpr":"'' + datum.value","labelPadding":28,"labelBaseline":"alphabetic","labelAlign":"center","title":"Frequency (kHz)","titleX":258,"titleY":57,"titleBaseline":"alphabetic","titleAlign":"center","titleAngle":0}},
      "y":{"field":"ph","type":"quantitative","scale":{"domain":[-3.14159,3.14159],"nice":false,"zero":false},
        "axis":{"orient":"left","values":[-3,-2,-1,0,1,2,3],"grid":true,"labelExpr":"'' + datum.value","labelPadding":7,"labelBaseline":"middle","title":"Phase[S(f)]","titleX":-37,"titleY":165.5,"titleAngle":270,"titleBaseline":"alphabetic","titleAlign":"center"}}
     }},
    {"mark":{"type":"point","opacity":0},
     "encoding":{
      "x":{"field":"f","type":"quantitative","axis":{"orient":"bottom","values":[0,10,20,30,40,50],"ticks":true,"tickSize":5,"offset":-5,"labels":false,"title":null}},
      "y":{"field":"ph","type":"quantitative","axis":{"orient":"left","values":[-3,-2,-1,0,1,2,3],"ticks":true,"tickSize":5,"offset":-5,"labels":false,"title":null}}
     }},
    {"mark":{"type":"point","opacity":0},
     "encoding":{
      "x":{"field":"f","type":"quantitative","axis":{"orient":"top","values":[0,10,20,30,40,50],"ticks":true,"tickSize":5,"offset":-5,"labels":false,"title":null}},
      "y":{"field":"ph","type":"quantitative","axis":{"orient":"right","values":[-3,-2,-1,0,1,2,3],"ticks":true,"tickSize":5,"offset":-5,"labels":false,"title":null}}
     }},
    {"data":{"values":[{"f":0,"ph":0.57},{"f":10.84,"ph":3.11},{"f":11.13,"ph":-3.105},{"f":37.64,"ph":3.106},{"f":37.92,"ph":-3.11},{"f":39.76,"ph":-2.68}]},
     "mark":{"type":"line","color":"#000000","strokeWidth":1,"clip":true},
     "encoding":{
      "x":{"field":"f","type":"quantitative","axis":null},
      "y":{"field":"ph","type":"quantitative","axis":null}
     }},
    {"mark":{"type":"point","filled":true,"size":3364,"strokeWidth":1,"opacity":1,"clip":true},
     "encoding":{
      "x":{"field":"f","type":"quantitative","axis":null},
      "y":{"field":"ph","type":"quantitative","axis":null},
      "fill":{"datum":"Data Points","type":"nominal","scale":{"domain":["Data Points","Linear Fit"],"range":["#ff0000","transparent"]},
        "legend":{"title":null,"orient":"none","legendX":906,"legendY":47.4,"symbolSize":3364,"symbolStrokeWidth":1,"clipHeight":17.4,"rowPadding":7.6,"padding":7,"labelOffset":5,"fillColor":"white","strokeColor":"#262626"}},
      "stroke":{"datum":"Data Points","type":"nominal","scale":{"domain":["Data Points","Linear Fit"],"range":["transparent","#000000"]},
        "legend":{"title":null,"orient":"none","legendX":906,"legendY":47.4,"symbolSize":3364,"symbolStrokeWidth":1,"clipHeight":17.4,"rowPadding":7.6,"padding":7,"labelOffset":5,"fillColor":"white","strokeColor":"#262626"}},
      "shape":{"datum":"Data Points","type":"nominal","scale":{"domain":["Data Points","Linear Fit"],"range":["M-0.086,0A0.086,0.086,0,1,0,0.086,0A0.086,0.086,0,1,0,-0.086,0Z","stroke"]},
        "legend":{"title":null,"orient":"none","legendX":906,"legendY":47.4,"symbolSize":3364,"symbolStrokeWidth":1,"clipHeight":17.4,"rowPadding":7.6,"padding":7,"labelOffset":5,"fillColor":"white","strokeColor":"#262626"}}
     }}
   ],
   "resolve":{"axis":{"x":"independent","y":"independent"}}
  }
 ]
}
]
}
